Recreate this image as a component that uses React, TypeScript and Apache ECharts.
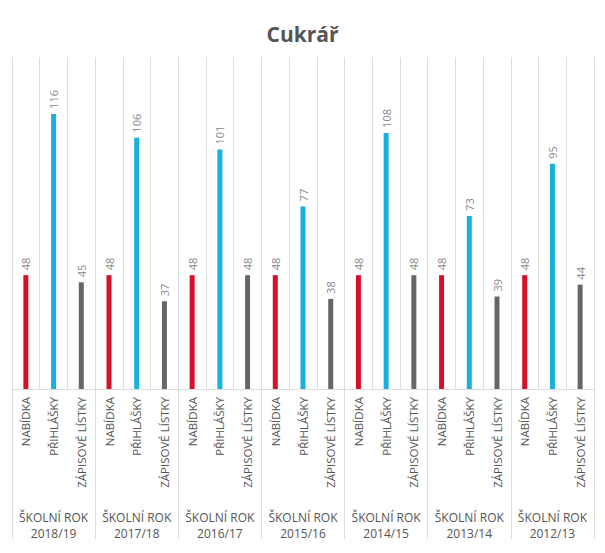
import React, { useEffect, useRef } from "react";
import * as echarts from "echarts";

const years = ["2018/19", "2017/18", "2016/17", "2015/16", "2014/15", "2013/14", "2012/13"];
const types = ["NABÍDKA", "PŘIHLÁŠKY", "ZÁPISOVÉ LÍSTKY"];
const groupLabel = "ŠKOLNÍ ROK";
const nabidka = [48, 48, 48, 48, 48, 48, 48];
const prihlasky = [116, 106, 101, 77, 108, 73, 95];
const zapisove = [45, 37, 48, 38, 48, 39, 44];
const colors = ["#d7102a", "#17b0e0", "#666666"];

export default function App() {
  const ref = useRef<HTMLDivElement>(null);
  useEffect(() => {
    const chart = echarts.init(ref.current!, null, { renderer: "svg" });
    const cats: string[] = [];
    const data: any[] = [];
    years.forEach((y, i) => {
      const vals = [nabidka[i], prihlasky[i], zapisove[i]];
      vals.forEach((v, j) => {
        cats.push(types[j]);
        data.push({ value: v, itemStyle: { color: colors[j] } });
      });
    });
    chart.setOption({
      animation: false,
      textStyle: { fontFamily: "'Open Sans', sans-serif" },
      title: {
        text: "Cukrář",
        left: "center",
        top: 18,
        textStyle: { fontSize: 21, fontWeight: "bold", color: "#555", fontFamily: "'Open Sans', sans-serif" },
      },
      grid: { left: 12, right: 11, top: 57, bottom: 164 },
      xAxis: [
        {
          type: "category",
          data: cats,
          position: "bottom",
          axisLine: { show: true, lineStyle: { color: "#dddddd" } },
          axisTick: { show: false },
          splitLine: { show: true, interval: 0, lineStyle: { color: "#dddddd" } },
          axisLabel: { interval: 0, rotate: 90, color: "#555", fontSize: 11.5, margin: 8 },
        },
        {
          type: "category",
          data: years.map(() => groupLabel),
          position: "bottom",
          axisLine: { show: false },
          axisTick: { show: true, interval: 0, length: 150, lineStyle: { color: "#dddddd" } },
          splitLine: { show: false },
          axisLabel: { interval: 0, color: "#555", fontSize: 12, lineHeight: 14, margin: 121 },
        },
        {
          type: "category",
          data: years,
          position: "bottom",
          axisLine: { show: false },
          axisTick: { show: false },
          splitLine: { show: false },
          axisLabel: { interval: 0, color: "#555", fontSize: 12, lineHeight: 14, margin: 137 },
        },
      ],
      yAxis: { type: "value", min: 0, max: 140, show: false, splitLine: { show: false } },
      series: [
        {
          type: "bar",
          xAxisIndex: 0,
          barWidth: 5,
          data,
          label: {
            show: true,
            position: "top",
            rotate: 90,
            align: "left",
            verticalAlign: "middle",
            distance: 5,
            color: "#888",
            fontSize: 11,
          },
        },
      ],
    });
    return () => chart.dispose();
  }, []);
  return <div ref={ref} style={{ width: 605, height: 553, position: "absolute", left: 0, top: 0 }} />;
}
